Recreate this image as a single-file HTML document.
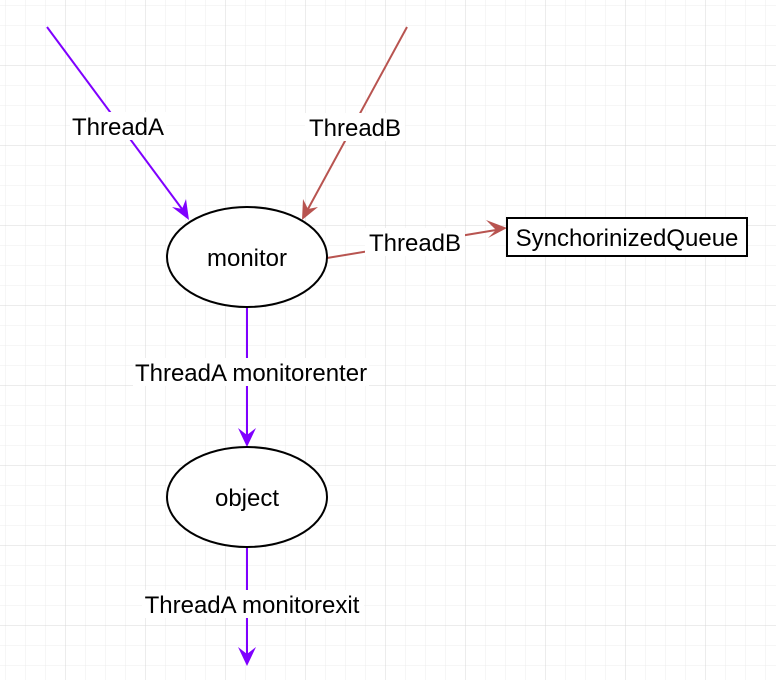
<!DOCTYPE html>
<html><head><style>
body{margin:0;background:#fff}
svg text{font-family:"Liberation Sans",Helvetica,sans-serif;font-size:24px;fill:#000}
</style></head><body>
<svg width="776" height="680" xmlns="http://www.w3.org/2000/svg">
<defs>
<pattern id="minor" x="6" y="6" width="20" height="20" patternUnits="userSpaceOnUse"><path d="M20 0V20M0 20H20" fill="none" stroke="#ececec" stroke-width="1"/></pattern>
<pattern id="major" x="-14" y="-14" width="80" height="80" patternUnits="userSpaceOnUse"><path d="M80 0V80M0 80H80" fill="none" stroke="#d8d8d8" stroke-width="1"/></pattern>
</defs>
<rect width="776" height="680" fill="url(#minor)"/>
<rect width="776" height="680" fill="url(#major)"/>
<g stroke-width="2" fill="none">
<line x1="47" y1="27" x2="182" y2="209" stroke="#7F00FF"/>
<line x1="407" y1="27" x2="308" y2="209" stroke="#B85450"/>
<line x1="327" y1="258" x2="496" y2="230" stroke="#B85450"/>
<line x1="247" y1="307" x2="247" y2="436" stroke="#7F00FF"/>
<line x1="247" y1="547" x2="247" y2="654" stroke="#7F00FF"/>
</g>
<polygon points="189,220 172,207 182,209 186,199" fill="#7F00FF"/>
<polygon points="302,220 303,199 308,209 318,207" fill="#B85450"/>
<polygon points="507,228 488,238 496,230 486,220" fill="#B85450"/>
<polygon points="247,447 238,428 247,435 256,428" fill="#7F00FF"/>
<polygon points="247,666 238,647 247,654 256,647" fill="#7F00FF"/>
<ellipse cx="247" cy="257" rx="80" ry="50" fill="#fff" stroke="#000" stroke-width="2"/>
<ellipse cx="247" cy="497" rx="80" ry="50" fill="#fff" stroke="#000" stroke-width="2"/>
<rect x="507" y="218" width="240" height="38" fill="#fff" stroke="#000" stroke-width="2"/>
<rect x="70" y="112" width="96" height="28" fill="#fff"/>
<rect x="305" y="113" width="100" height="28" fill="#fff"/>
<rect x="365" y="228" width="100" height="28" fill="#fff"/>
<rect x="133" y="358" width="236" height="28" fill="#fff"/>
<rect x="142" y="590" width="222" height="28" fill="#fff"/>
<text x="118" y="135" text-anchor="middle">ThreadA</text>
<text x="355" y="136" text-anchor="middle">ThreadB</text>
<text x="415" y="251" text-anchor="middle">ThreadB</text>
<text x="251" y="381" text-anchor="middle">ThreadA monitorenter</text>
<text x="252" y="613" text-anchor="middle">ThreadA monitorexit</text>
<text x="247" y="266" text-anchor="middle">monitor</text>
<text x="247" y="506" text-anchor="middle">object</text>
<text x="627" y="246" text-anchor="middle">SynchorinizedQueue</text>
</svg>
</body></html>
